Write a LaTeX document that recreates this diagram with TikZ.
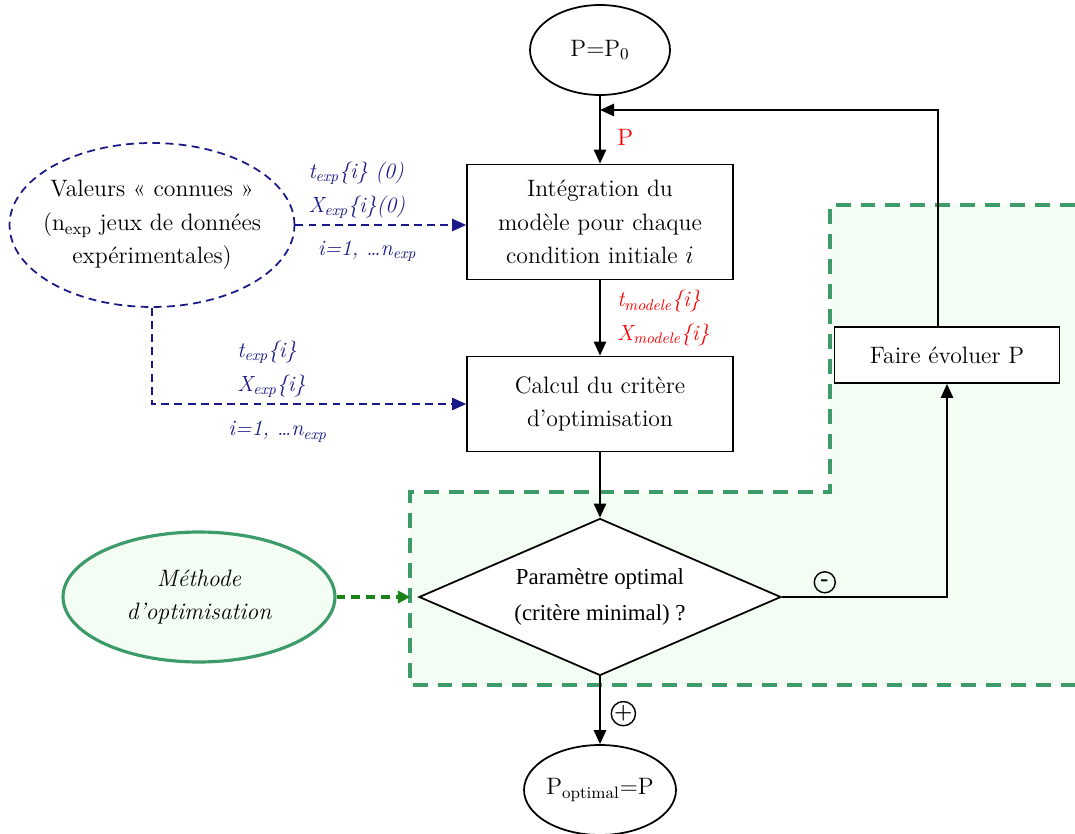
\documentclass[tikz,border=0pt]{standalone}
\usepackage{fontspec}
\newfontfamily\timesfont{Liberation Serif}
\usetikzlibrary{shapes.geometric,arrows.meta}
\definecolor{bleudonnees}{RGB}{25,25,135}
\definecolor{vertzone}{RGB}{60,155,105}
\definecolor{fondvert}{RGB}{243,253,243}
\definecolor{vertfleche}{RGB}{25,130,25}

\begin{document}
\begin{tikzpicture}[x=0.02cm,y=-0.02cm,
    every node/.style={font=\fontsize{13.5}{19}\selectfont},
    procbox/.style={draw,line width=1pt,fill=white,align=center,minimum width=5.32cm},
    startend/.style={draw,ellipse,line width=1pt,fill=white,inner sep=0pt,minimum width=2.8cm,minimum height=1.8cm},
    test/.style={draw,diamond,aspect=2.3,line width=1pt,fill=white,align=center,inner sep=0pt,
      minimum width=7.24cm,minimum height=3.14cm,font=\timesfont\fontsize{13}{20}\selectfont},
    flow/.style={line width=1pt,-{Triangle[length=8pt,width=7pt]}},
    donnees/.style={draw=bleudonnees,ellipse,line width=1pt,dash pattern=on 4.5pt off 3pt,
      align=center,inner xsep=-0.2cm,inner ysep=0.12cm,minimum width=5.7cm,minimum height=3.28cm},
    donneesfleche/.style={bleudonnees,line width=1pt,dash pattern=on 4.5pt off 3pt,
      -{Triangle[length=8pt,width=7pt]}},
    etiq/.style={font=\itshape\fontsize{12.5}{19}\selectfont,align=left},
    methode/.style={draw=vertzone,fill=fondvert,ellipse,line width=1.8pt,align=center,
      inner sep=0pt,minimum width=5.44cm,minimum height=2.6cm,font=\itshape\fontsize{13.5}{19}\selectfont},
    zone/.style={vertzone,line width=1.9pt,dash pattern=on 8.5pt off 5.7pt},
    signe/.style={draw,circle,line width=0.8pt,inner sep=0pt,minimum size=0.42cm,
      font=\bfseries\fontsize{12}{12}\selectfont}]
  \useasboundingbox (0,0) rectangle (1075,834);

  % zone de l'optimiseur
  \fill[fondvert] (830,205) -- (1100,205) -- (1100,685) -- (410,685) -- (410,492) -- (830,492) -- cycle;
  \draw[zone] (1100,205) -- (830,205) -- (830,492) -- (410,492) -- (410,685) -- (1100,685);

  % boucle principale
  \node[startend] (init) at (600,50) {P=P\textsubscript{0}};
  \node[procbox,minimum height=2.3cm] (integ) at (600,222) {Intégration du\\modèle pour chaque\\condition initiale $i$};
  \node[procbox,minimum height=1.9cm] (critere) at (600,404) {Calcul du critère\\d’optimisation};
  \node[test] (optim) at (600,597) {Paramètre optimal\\(critère minimal) ?};
  \node[startend,minimum width=2.96cm] (fin) at (600,790) {P\textsubscript{optimal}=P};
  \node[procbox,minimum width=4.5cm,minimum height=1.12cm] (evol) at (947,355) {Faire évoluer P};
  \coordinate (retour) at (600,110);

  \draw[flow] (init) -- node[pos=0.62,right=6pt,red]{P} (integ);
  \draw[flow] (integ) -- node[right=6pt,etiq,red]{t\textsubscript{modele}\{i\}\\X\textsubscript{modele}\{i\}} (critere);
  \draw[flow] (critere) -- (optim);
  \draw[flow] (optim) -- node[pos=0.55,right=6pt,signe]{+} (fin);
  \draw[flow] (optim.east) -| node[pos=0.13,above=2pt,signe]{-} (evol.south);
  \draw[flow] ([xshift=-0.18cm]evol.north) |- (retour);

  % donnees experimentales
  \node[donnees] (connues) at (152,225) {Valeurs « connues »\\(n\textsubscript{exp} jeux de données\\expérimentales)};
  \draw[donneesfleche] (connues.east) -- node[pos=0.36,above,etiq]{t\textsubscript{exp}\{i\} (0)\\X\textsubscript{exp}\{i\}(0)}
    node[pos=0.42,below=5pt,etiq]{i=1, …n\textsubscript{exp}} (connues.east -| integ.west);
  \draw[donneesfleche] (connues.south) |- node[pos=0.69,above,etiq]{t\textsubscript{exp}\{i\}\\X\textsubscript{exp}\{i\}}
    node[pos=0.7,below=6pt,etiq]{i=1, …n\textsubscript{exp}} (critere.west);

  % methode d'optimisation
  \node[methode] (methode) at (199,597) {Méthode\\d’optimisation};
  \draw[vertfleche,line width=1.8pt,dash pattern=on 5pt off 3.5pt,shorten >=0.16cm,
    -{Triangle[length=7pt,width=7pt]}] (methode) -- (optim.west);
\end{tikzpicture}
\end{document}
